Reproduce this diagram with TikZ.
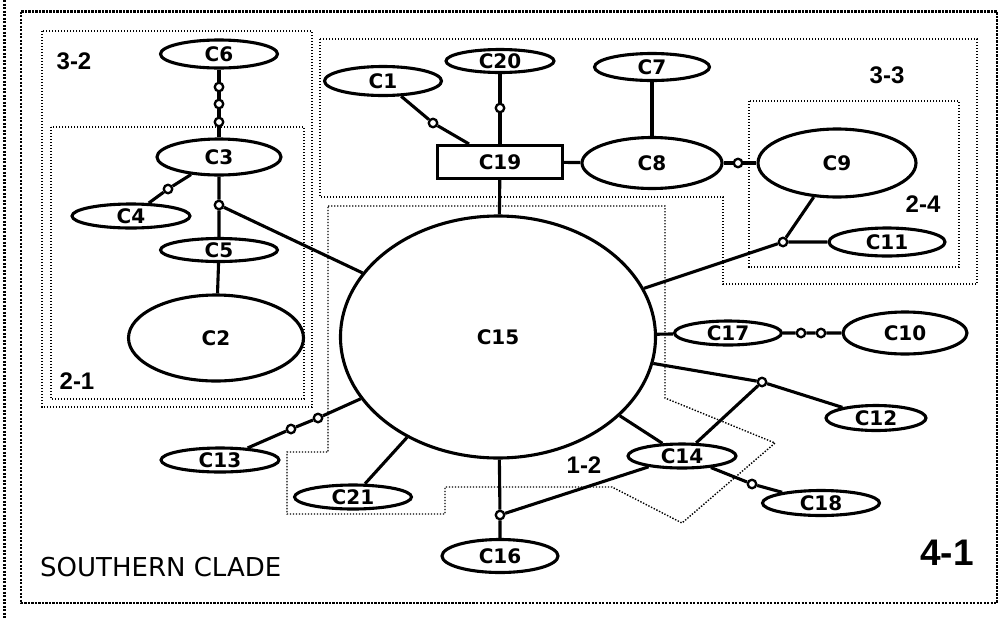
\documentclass[tikz,border=0pt]{standalone}
\usepackage{fontspec}
\setmainfont{DejaVu Sans}
\newfontfamily\grpfont{Liberation Sans}
\usepackage{tikz}
\usetikzlibrary{shapes.geometric}
\tikzset{
  hap/.style={ellipse, draw, line width=3.1pt, inner sep=0pt, font=\fontsize{20}{20}\selectfont\bfseries},
  hapbox/.style={rectangle, draw, line width=3.1pt, inner sep=0pt, font=\fontsize{20}{20}\selectfont\bfseries},
  mut/.style={circle, draw, fill=white, line width=2.3pt, minimum size=8.5pt, inner sep=0pt},
  link/.style={line width=3.1pt},
  clade/.style={line width=1.4pt, dash pattern=on 1.4pt off 1.6pt},
  frame/.style={line width=2.2pt, dash pattern=on 2.2pt off 1.3pt},
  grplabel/.style={inner sep=0pt, font=\grpfont\fontsize{24}{24}\selectfont\bfseries}
}

\begin{document}
\begin{tikzpicture}[x=1pt, y=-1pt]
\useasboundingbox (0,0) rectangle (1004,619);

\draw[frame] (4.5,0) -- (4.5,619);
\draw[frame] (21,11.5) rectangle (997,603);

\draw[clade] (42,31) rectangle (312,407);
\draw[clade] (51,127) rectangle (304,399);
\draw[clade] (320,39) -- (977,39) -- (977,284) -- (723,284) -- (723,197) -- (320,197) -- cycle;
\draw[clade] (749,101) rectangle (959,267);
\draw[clade] (328,206) -- (665,206) -- (665,398) -- (775,443) -- (682,523) -- (612,487)
  -- (445,487) -- (445,514) -- (287,514) -- (287,452) -- (328,452) -- cycle;

\node[hap, minimum width=117pt, minimum height=28pt] (c6) at (219,54) {C6};
\node[hap, minimum width=124pt, minimum height=36pt] (c3) at (219,157) {C3};
\node[hap, minimum width=118pt, minimum height=24pt] (c4) at (131,216) {C4};
\node[hap, minimum width=117pt, minimum height=23pt] (c5) at (219,250) {C5};
\node[hap, minimum width=175pt, minimum height=86pt] (c2) at (216,338) {C2};
\node[hap, minimum width=117pt, minimum height=29pt] (c1) at (383,81) {C1};
\node[hap, minimum width=108pt, minimum height=23pt] (c20) at (500,61) {C20};
\node[hapbox, minimum width=125pt, minimum height=33pt] (c19) at (500,162) {C19};
\node[hap, minimum width=115pt, minimum height=27pt] (c7) at (652,67) {C7};
\node[hap, minimum width=140pt, minimum height=51pt] (c8) at (652,163) {C8};
\node[hap, minimum width=158pt, minimum height=68pt] (c9) at (837,163) {C9};
\node[hap, minimum width=116pt, minimum height=28pt] (c11) at (887,242) {C11};
\node[hap, minimum width=315pt, minimum height=242pt] (c15) at (498,337) {C15};
\node[hap, minimum width=107pt, minimum height=24pt] (c17) at (728,333) {C17};
\node[hap, minimum width=124pt, minimum height=42pt] (c10) at (905,333) {C10};
\node[hap, minimum width=100pt, minimum height=25pt] (c12) at (876,418) {C12};
\node[hap, minimum width=108pt, minimum height=24pt] (c14) at (682,456) {C14};
\node[hap, minimum width=117pt, minimum height=25pt] (c18) at (821,503) {C18};
\node[hap, minimum width=116pt, minimum height=33pt] (c16) at (500,556) {C16};
\node[hap, minimum width=117pt, minimum height=24pt] (c21) at (353,497) {C21};
\node[hap, minimum width=118pt, minimum height=24pt] (c13) at (220,460) {C13};

\node[mut] (m6a) at (219,87) {};
\node[mut] (m6b) at (219,104) {};
\node[mut] (m6c) at (219,122) {};
\node[mut] (m4) at (168,189) {};
\node[mut] (j3) at (219,205) {};
\node[mut] (m1) at (433,123) {};
\node[mut] (m20) at (500,108) {};
\node[mut] (m8) at (738,163) {};
\node[mut] (j11) at (783,242) {};
\node[mut] (m10a) at (801,333) {};
\node[mut] (m10b) at (821,333) {};
\node[mut] (j12) at (762,382) {};
\node[mut] (m18) at (752,484) {};
\node[mut] (j16) at (500,515) {};
\node[mut] (m13a) at (318,418) {};
\node[mut] (m13b) at (291,429) {};

\draw[link] (c6) -- (m6a) -- (m6b) -- (m6c) -- (c3);
\draw[link] (c3) -- (m4) -- (c4);
\draw[link] (c3) -- (j3) -- (c5) -- (c2);
\draw[link] (j3) -- (c15);
\draw[link] (c1) -- (m1) -- (c19);
\draw[link] (c20) -- (m20) -- (c19);
\draw[link] (c19) -- (c8);
\draw[link] (c19) -- (c15);
\draw[link] (c7) -- (c8);
\draw[link] (c8) -- (m8) -- (c9);
\draw[link] (c9) -- (j11) -- (c11);
\draw[link] (c15) -- (j11);
\draw[link] (c15) -- (c17) -- (m10a) -- (m10b) -- (c10);
\draw[link] (c15) -- (j12) -- (c12);
\draw[link] (c14) -- (j12);
\draw[link] (c15) -- (c14);
\draw[link] (c14) -- (m18) -- (c18);
\draw[link] (c15) -- (j16) -- (c16);
\draw[link] (j16) -- (c14);
\draw[link] (c15) -- (c21);
\draw[link] (c15) -- (m13a) -- (m13b) -- (c13);

\node[grplabel] (g32) at (74,61) {3-2};
\node[grplabel] (g21) at (77,381) {2-1};
\node[grplabel] (g33) at (887,75) {3-3};
\node[grplabel] (g24) at (923,204) {2-4};
\node[grplabel] (g12) at (584,465) {1-2};
\node[inner sep=0pt, font=\grpfont\fontsize{37}{37}\selectfont\bfseries] (g41) at (947,553) {4-1};
\node[inner sep=0pt, anchor=west, font=\fontsize{26}{26}\selectfont] (clade) at (40,567) {SOUTHERN CLADE};
\end{tikzpicture}
\end{document}
